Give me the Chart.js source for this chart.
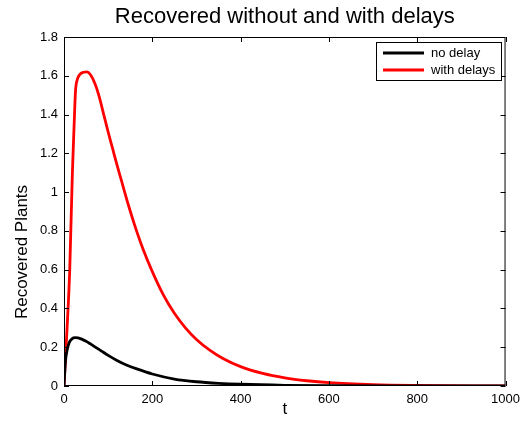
<!DOCTYPE html>
<html>
<head>
<meta charset="utf-8">
<script src="https://cdn.jsdelivr.net/npm/chart.js@4"></script>
<style>
  html, body { margin: 0; padding: 0; background: #fff; }
  #wrap { width: 526px; height: 432px; }
</style>
</head>
<body>
<div id="wrap"><canvas id="c" width="526" height="432"></canvas></div>
<script>
// Recovered plants, with and without delays (MATLAB-style line plot).

const tNoDelay = [0, 3, 7, 12, 18, 25, 32, 40, 50, 60, 70, 85, 100, 120, 140, 165, 200, 250, 300, 350, 400, 500, 600, 750, 1000];
const noDelay  = [0, 0.12, 0.185, 0.225, 0.243, 0.249, 0.248, 0.242, 0.231, 0.217, 0.202, 0.18, 0.158, 0.132, 0.11, 0.088, 0.062, 0.036, 0.022, 0.014, 0.009, 0.0035, 0.0012, 0.0003, 0];

const tDelay    = [0, 7, 13, 19, 23, 26, 30, 36, 44, 52, 60, 70, 80, 90, 100, 110, 120, 130, 145, 160, 180, 200, 225, 250, 275, 300, 330, 360, 400, 450, 500, 550, 600, 700, 800, 1000];
const withDelay = [0, 0.3, 0.6, 1.1, 1.35, 1.52, 1.58, 1.607, 1.618, 1.62, 1.605, 1.56, 1.49, 1.40, 1.31, 1.225, 1.14, 1.06, 0.94, 0.83, 0.70, 0.59, 0.47, 0.375, 0.30, 0.24, 0.185, 0.142, 0.10, 0.065, 0.042, 0.027, 0.017, 0.007, 0.003, 0];

const xTicks = [0, 200, 400, 600, 800, 1000];
const yTicks = [0, 0.2, 0.4, 0.6, 0.8, 1, 1.2, 1.4, 1.6, 1.8];

const FONT = "'Liberation Sans', Arial, Helvetica, sans-serif";

const toPoints = (xs, ys) => xs.map((x, i) => ({ x: x, y: ys[i] }));

// box, inward ticks, title, y label and legend drawn on top like MATLAB axes
const matlabAxes = {
    id: 'matlabAxes',
    afterDatasetsDraw(chart) {
        const { ctx, chartArea: a, scales: { x, y } } = chart;
        const tl = 5;
        ctx.save();
        ctx.strokeStyle = '#000';
        ctx.lineWidth = 1;
        ctx.beginPath();
        ctx.rect(a.left + 0.5, a.top + 0.5, a.right - a.left - 1, a.bottom - a.top - 1);
        xTicks.forEach(v => {
            const px = Math.round(x.getPixelForValue(v)) + 0.5;
            ctx.moveTo(px, a.bottom); ctx.lineTo(px, a.bottom - tl);
            ctx.moveTo(px, a.top); ctx.lineTo(px, a.top + tl);
        });
        yTicks.forEach(v => {
            const py = Math.round(y.getPixelForValue(v)) + 0.5;
            ctx.moveTo(a.left, py); ctx.lineTo(a.left + tl, py);
            ctx.moveTo(a.right, py); ctx.lineTo(a.right - tl, py);
        });
        ctx.stroke();

        // title
        ctx.fillStyle = '#000';
        ctx.font = '22px ' + FONT;
        ctx.textAlign = 'center';
        ctx.textBaseline = 'middle';
        ctx.fillText('Recovered without and with delays', (a.left + a.right) / 2, 17);

        // y label
        ctx.save();
        ctx.translate(22, 252);
        ctx.rotate(-Math.PI / 2);
        ctx.font = '17px ' + FONT;
        ctx.fillText('Recovered Plants', 0, 0);
        ctx.restore();

        // legend
        const lx = 376.5, ly = 42.5, lw = 125, lh = 38;
        ctx.fillStyle = '#fff';
        ctx.fillRect(lx, ly, lw, lh);
        ctx.strokeRect(lx, ly, lw, lh);
        ctx.font = '13px ' + FONT;
        ctx.textAlign = 'left';
        chart.data.datasets.forEach((ds, i) => {
            const yy = 53 + i * 17;
            ctx.strokeStyle = ds.borderColor;
            ctx.lineWidth = 2.8;
            ctx.beginPath();
            ctx.moveTo(383, yy); ctx.lineTo(424, yy);
            ctx.stroke();
            ctx.fillStyle = '#000';
            ctx.fillText(ds.label, 431, yy);
        });
        ctx.restore();
    }
};

new Chart(document.getElementById('c'), {
    type: 'line',
    data: {
        datasets: [
            { label: 'no delay', data: toPoints(tNoDelay, noDelay), borderColor: '#000000' },
            { label: 'with delays', data: toPoints(tDelay, withDelay), borderColor: '#ff0000' }
        ]
    },
    options: {
        responsive: false,
        animation: false,
        events: [],
        layout: { padding: { top: 37, right: 15, left: 0, bottom: 0 } },
        elements: {
            point: { radius: 0 },
            line: { borderWidth: 2.8, cubicInterpolationMode: 'monotone', fill: false }
        },
        plugins: { legend: { display: false }, tooltip: { enabled: false } },
        scales: {
            x: {
                type: 'linear',
                min: 0, max: 1000,
                afterFit: s => { s.height = 46; },
                afterBuildTicks: s => { s.ticks = xTicks.map(v => ({ value: v })); },
                grid: { display: false, drawTicks: false },
                border: { display: false },
                ticks: { color: '#000', padding: 6, maxRotation: 0, font: { family: FONT, size: 13 }, callback: v => String(v) },
                title: { display: true, text: 't', color: '#000', font: { family: FONT, size: 17 }, padding: { top: 0, bottom: 12 } }
            },
            y: {
                min: 0, max: 1.8,
                afterFit: s => { s.width = 64; },
                afterBuildTicks: s => { s.ticks = yTicks.map(v => ({ value: v })); },
                grid: { display: false, drawTicks: false },
                border: { display: false },
                ticks: { color: '#000', padding: 6, font: { family: FONT, size: 13 }, callback: v => String(+v.toFixed(1)) }
            }
        }
    },
    plugins: [matlabAxes]
});
</script>
</body>
</html>
